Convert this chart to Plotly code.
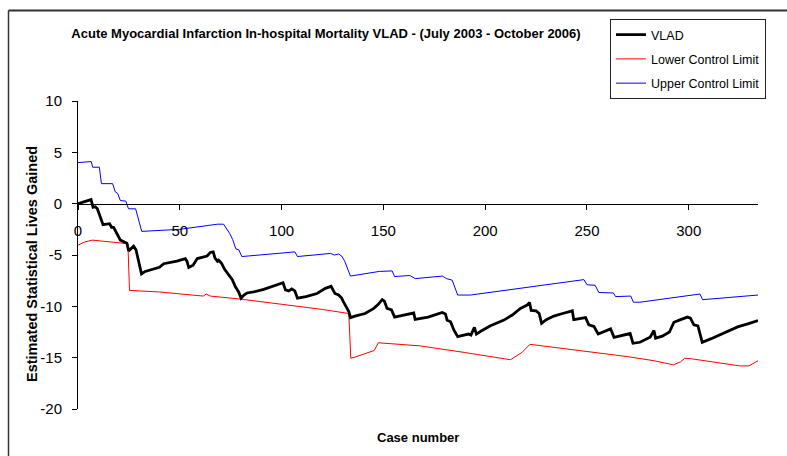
import plotly.graph_objects as go

# ---------------- data ----------------
case_vlad = [0, 3, 6.4, 7.4, 8.5, 9.5, 11, 12.3, 15.5, 16.5, 17.5, 18.5, 19.5, 20.8, 22.5, 24,
             24.9, 26, 27.3, 28.5, 29.8, 31.2, 33, 36, 40, 42.1, 45, 48.6, 52.7, 53.5, 54.4,
             56.5, 58.6, 61, 63.4, 65, 66.4, 67.3, 68.5, 69.1, 70.5, 72, 74, 75.8, 77.3, 78.9,
             80.1, 81.5, 83, 86.3, 91.2, 96.1, 100.7, 101.9, 103.5, 105, 106.5, 107.8, 112,
             117.4, 121.5, 124.3, 126.2, 128, 129.5, 130.2, 131.8, 133, 133.8, 136, 141, 145.3,
             147.5, 149.4, 150.5, 151.8, 154, 155.5, 160, 164.9, 165.6, 172, 178.9, 180.5,
             181.3, 183, 184.6, 186.5, 189.5, 191.9, 193, 194.7, 195.7, 198, 202.6, 209.2,
             213.3, 217.3, 220.6, 221.8, 222.6, 225, 226.5, 227.7, 230, 233.7, 238, 242.8,
             243.5, 247, 249.3, 250.9, 253.4, 255.5, 259, 261.6, 263.3, 267, 271.2, 272.6,
             276, 281, 282.9, 283.7, 287, 290.5, 292.7, 296, 299.3, 300.8, 302.5, 304.5,
             305.5, 306.6, 311, 316.8, 320, 324, 329, 334]
vlad = [0, 0.2, 0.4, -0.35, -0.3, -0.5, -1.3, -2.05, -1.95, -2.3, -2.3, -2.7, -3.0, -3.55,
        -3.7, -3.85, -4.6, -4.35, -4.15, -4.5, -5.8, -6.85, -6.6, -6.4, -6.2, -5.85, -5.75,
        -5.6, -5.35, -5.6, -6.22, -6.0, -5.35, -5.2, -5.1, -4.75, -4.7, -5.3, -5.6, -5.5,
        -5.8, -6.4, -6.9, -7.4, -8.1, -8.6, -9.2, -8.9, -8.7, -8.6, -8.35, -8.05, -7.7,
        -8.4, -8.5, -8.3, -8.5, -9.2, -9.05, -8.75, -8.25, -8.05, -8.75, -8.9, -9.2, -9.5,
        -10.0, -10.5, -11.1, -10.95, -10.7, -10.2, -9.8, -9.35, -9.5, -10.2, -10.35, -11.05,
        -10.85, -10.65, -11.27, -11.05, -10.6, -10.75, -11.35, -11.5, -12.3, -12.96, -12.8,
        -12.7, -12.8, -12.05, -12.7, -12.4, -11.89, -11.34, -10.85, -10.2, -9.88, -9.62,
        -10.4, -10.45, -10.7, -11.66, -11.3, -10.95, -10.7, -10.44, -11.3, -11.15, -11.1,
        -11.8, -11.95, -12.7, -12.45, -12.2, -13.02, -12.85, -12.65, -13.6, -13.5, -13.0,
        -12.35, -13.1, -12.9, -12.5, -11.55, -11.3, -11.05, -11.15, -11.8, -11.9, -12.6,
        -13.5, -13.15, -12.65, -12.3, -12.0, -11.7, -11.38]

case_lcl = [0, 3, 7, 15, 24.5, 25.3, 40, 61.5, 63, 65, 80, 100, 120, 133, 134, 136, 145.5,
            147.5, 168, 190, 212.4, 218, 222, 224, 250, 270, 283, 292.5, 296, 298, 301, 325,
            329.5, 334]
lcl = [-4.05, -3.75, -3.55, -3.7, -3.9, -8.45, -8.6, -9.0, -8.8, -9.0, -9.3, -9.8, -10.3,
       -10.7, -15.05, -14.95, -14.3, -13.55, -13.85, -14.5, -15.2, -14.5, -13.7, -13.75,
       -14.4, -14.9, -15.3, -15.7, -15.4, -15.06, -15.1, -15.8, -15.8, -15.3]

case_ucl = [0, 6.5, 7.2, 10.5, 11.5, 17, 18.3, 19.5, 20.8, 23.5, 24.8, 28.3, 31.3, 50, 68.5,
            71.5, 74.5, 76, 77.5, 79, 80.5, 106.5, 107.8, 121, 124, 126, 128, 129.5, 131,
            133.8, 148, 154.3, 155.5, 163, 165.7, 179, 181, 183.8, 185, 186.5, 192.8, 248.5,
            250, 254, 255.8, 263, 264, 271.5, 272.8, 276, 305.5, 306.8, 334]
ucl = [4.0, 4.1, 3.55, 3.55, 1.95, 1.95, 1.15, 1.0, 0.3, 0.25, -0.5, -0.5, -2.7, -2.5, -2.0,
       -2.0, -2.9, -3.5, -4.4, -4.5, -5.15, -4.7, -5.15, -4.95, -4.85, -5.0, -4.9, -5.1,
       -5.6, -7.05, -6.6, -6.55, -7.1, -7.0, -7.3, -7.05, -7.3, -7.45, -8.2, -8.9, -8.9,
       -7.4, -7.9, -7.95, -8.65, -8.7, -9.05, -9.0, -9.6, -9.6, -8.8, -9.35, -8.9]

x_ticks = [0, 50, 100, 150, 200, 250, 300]
y_ticks = [10, 5, 0, -5, -10, -15, -20]

title_text = "Acute Myocardial Infarction In-hospital Mortality VLAD - (July 2003 - October 2006)"
x_title = "Case number"
y_title = "Estimated Statistical Lives Gained"

FONT = "Liberation Sans, Arial, sans-serif"

fig = go.Figure()
fig.add_trace(go.Scatter(x=case_ucl, y=ucl, mode="lines", name="Upper Control Limit",
                         legendgroup="c", line=dict(color="#0000FF", width=1), legendrank=3))
fig.add_trace(go.Scatter(x=case_lcl, y=lcl, mode="lines", name="Lower Control Limit",
                         legendgroup="b", line=dict(color="#FF0000", width=1), legendrank=2))
fig.add_trace(go.Scatter(x=case_vlad, y=vlad, mode="lines", name="VLAD",
                         legendgroup="a", line=dict(color="#000000", width=2.8), legendrank=1))

L, R, T, B = 78, 29, 101, 47
W, H = 787, 456
pw, ph = W - L - R, H - T - B


def px(xp):
    return (xp - L) / pw


def py(yp):
    return (H - B - yp) / ph


fig.update_layout(
    width=W, height=H,
    margin=dict(l=L, r=R, t=T, b=B, autoexpand=False),
    paper_bgcolor="white", plot_bgcolor="white",
    font=dict(family=FONT, size=14, color="#000000"),
    showlegend=True,
    legend=dict(x=px(610), y=py(19), xanchor="left", yanchor="top",
                bgcolor="white", bordercolor="#222222", borderwidth=1,
                font=dict(family=FONT, size=12.5), itemwidth=30,
                traceorder="grouped", tracegroupgap=5),
    title=dict(text="<b>" + title_text + "</b>", xref="paper", x=px(326), xanchor="center",
               yref="container", y=1 - 33 / H, yanchor="middle",
               font=dict(family=FONT, size=13)),
    xaxis=dict(range=[0, 334], tickvals=x_ticks, ticktext=[str(v) for v in x_ticks],
               anchor="free", position=2 / 3, showline=True, linecolor="#000000",
               linewidth=1, ticks="outside", ticklen=5, tickcolor="#000000",
               showgrid=False, zeroline=False, ticklabelstandoff=8,
               tickfont=dict(family=FONT, size=15)),
    yaxis=dict(range=[-20, 10], tickvals=y_ticks, ticktext=[str(v) for v in y_ticks],
               showline=True, linecolor="#000000", linewidth=1, ticks="outside",
               ticklen=5, tickcolor="#000000", showgrid=False, zeroline=False,
               ticklabelstandoff=7, tickfont=dict(family=FONT, size=15)),
    annotations=[
        dict(text="<b>" + x_title + "</b>", xref="paper", yref="paper",
             x=0.5, y=py(437), xanchor="center", yanchor="middle",
             showarrow=False, font=dict(family=FONT, size=13)),
        dict(text="<b>" + y_title + "</b>", xref="paper", yref="paper",
             x=px(32), y=py(264), xanchor="center", yanchor="middle", textangle=-90,
             showarrow=False, font=dict(family=FONT, size=14.5)),
    ],
    shapes=[
        dict(type="line", xref="paper", yref="paper", x0=px(8.5), x1=px(787),
             y0=py(10.5), y1=py(10.5), line=dict(color="#333333", width=2)),
        dict(type="line", xref="paper", yref="paper", x0=px(8.5), x1=px(8.5),
             y0=py(10.5), y1=py(456), line=dict(color="#333333", width=1.5)),
    ],
)

fig.write_html("out.html", config={"displayModeBar": False},
               post_script="document.body.style.margin='0';")
